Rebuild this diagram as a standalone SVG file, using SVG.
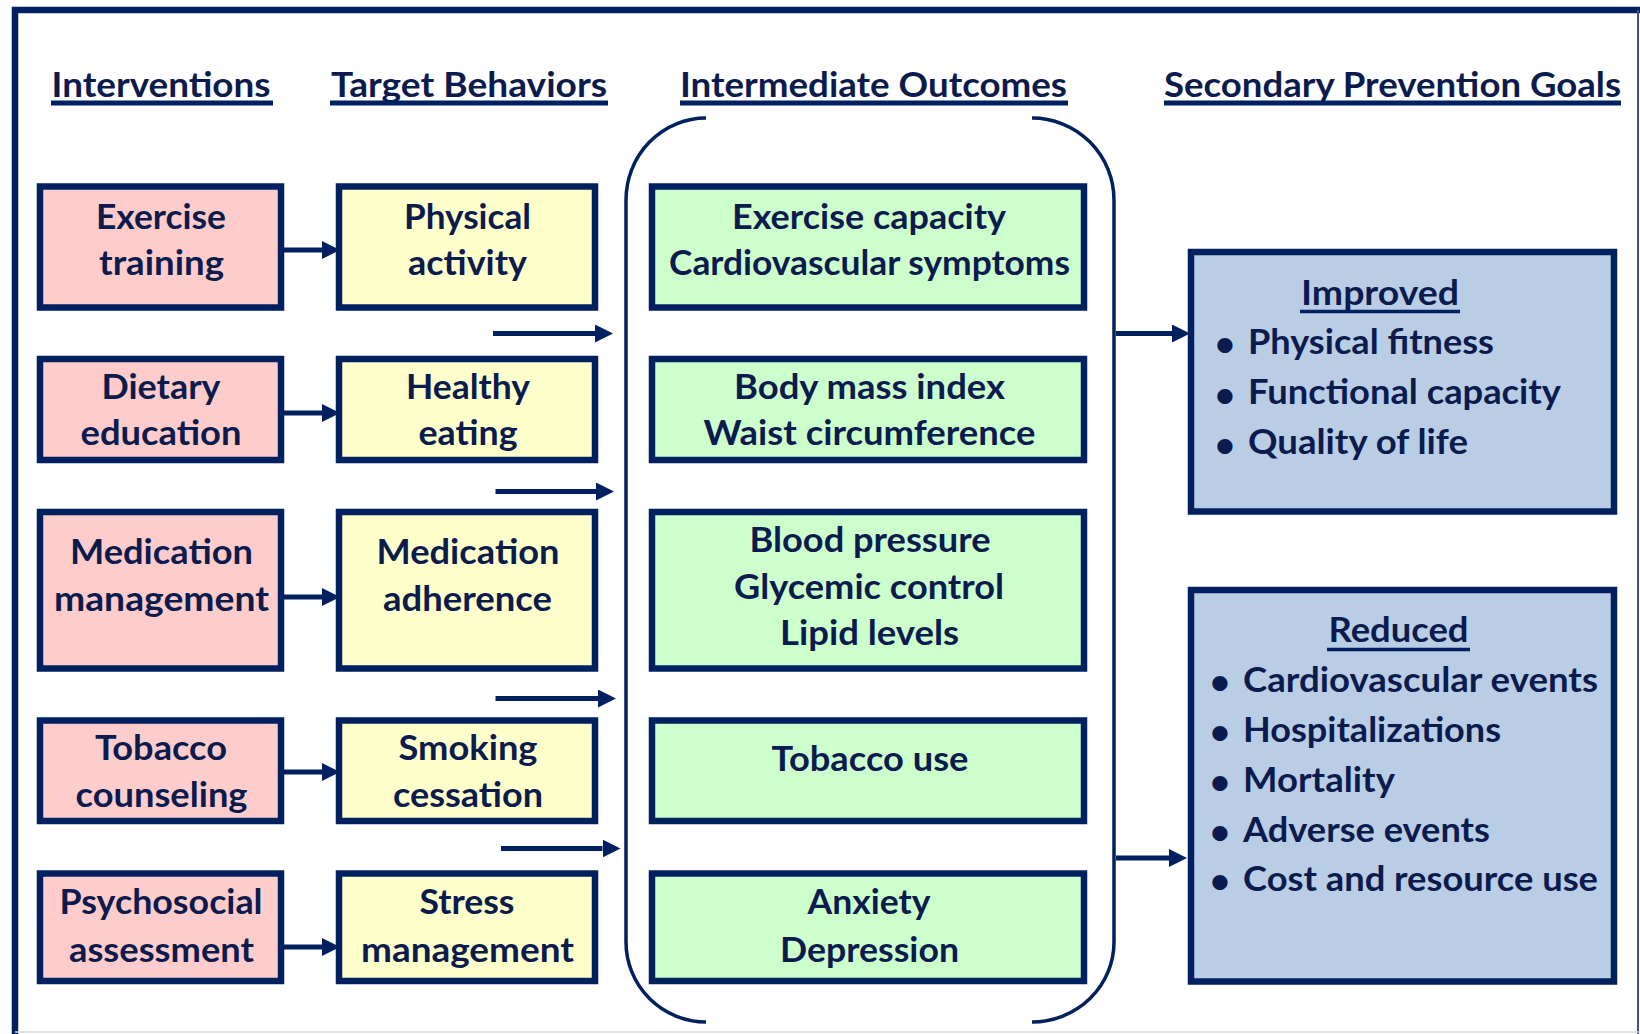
<svg xmlns="http://www.w3.org/2000/svg" width="1640" height="1034" viewBox="0 0 1640 1034">
  <defs>
    <style>
      .frame { fill: none; stroke: #002060; }
      .box { stroke: #002060; stroke-width: 6.5; }
      .pink { fill: #FFCCCC; }
      .yellow { fill: #FFFFCC; }
      .green { fill: #CCFFCC; }
      .blue { fill: #B9CDE5; }
      .t { font-family: Lato, "Liberation Sans", sans-serif; font-weight: 700; font-size: 35px; fill: #0C1B4D; text-anchor: middle; }
      .l { text-anchor: start; }
      .ul { stroke: #002060; stroke-width: 5; }
      .ul2 { stroke: #002060; stroke-width: 3.5; }
      .arrow { stroke: #002060; stroke-width: 5; fill: none; marker-end: url(#head); }
      .bracket { fill: none; stroke: #002060; stroke-width: 3.5; }
    </style>
    <marker id="head" viewBox="0 0 18 18" refX="0" refY="9" markerWidth="18" markerHeight="18" markerUnits="userSpaceOnUse" orient="auto">
      <path d="M0,0 L18,9 L0,18 Z" fill="#002060"/>
    </marker>
  </defs>

  <rect width="1640" height="1034" fill="#FFFFFF"/>

  <!-- outer frame -->
  <path class="frame" d="M15,1034 L15,10 L1640,10" stroke-width="6.5"/>
  <line x1="1638" y1="10" x2="1638" y2="1034" stroke="#3F5289" stroke-width="2"/>
  <line x1="15" y1="1032" x2="1640" y2="1032" stroke="#D6D9E2" stroke-width="1.5"/>

  <!-- column headings -->
  <g id="headings">
    <text class="t" x="161" y="96.5" textLength="219" lengthAdjust="spacingAndGlyphs">Interventions</text>
    <line class="ul" x1="51" y1="103" x2="273" y2="103"/>
    <text class="t" x="469" y="96.5" textLength="276" lengthAdjust="spacingAndGlyphs">Target Behaviors</text>
    <line class="ul" x1="330" y1="103" x2="608" y2="103"/>
    <text class="t" x="873.5" y="96.5" textLength="387" lengthAdjust="spacingAndGlyphs">Intermediate Outcomes</text>
    <line class="ul" x1="680" y1="103" x2="1068" y2="103"/>
    <text class="t" x="1392.5" y="96.5" textLength="457" lengthAdjust="spacingAndGlyphs">Secondary Prevention Goals</text>
    <line class="ul" x1="1164" y1="103" x2="1621" y2="103"/>
  </g>

  <!-- interventions -->
  <g id="exercise-training">
    <rect class="box pink" x="40" y="186.5" width="241" height="121"/>
    <text class="t" x="161" y="228.5" textLength="130" lengthAdjust="spacingAndGlyphs">Exercise</text>
    <text class="t" x="161.5" y="275" textLength="125" lengthAdjust="spacingAndGlyphs">training</text>
  </g>
  <g id="dietary-education">
    <rect class="box pink" x="40" y="359" width="241" height="101"/>
    <text class="t" x="161" y="398.5" textLength="119" lengthAdjust="spacingAndGlyphs">Dietary</text>
    <text class="t" x="161" y="445" textLength="161" lengthAdjust="spacingAndGlyphs">education</text>
  </g>
  <g id="medication-management">
    <rect class="box pink" x="40" y="512" width="241" height="156.5"/>
    <text class="t" x="161.5" y="563.5" textLength="183" lengthAdjust="spacingAndGlyphs">Medication</text>
    <text class="t" x="161.5" y="611" textLength="215" lengthAdjust="spacingAndGlyphs">management</text>
  </g>
  <g id="tobacco-counseling">
    <rect class="box pink" x="40" y="720.5" width="241" height="100.5"/>
    <text class="t" x="161" y="760" textLength="132" lengthAdjust="spacingAndGlyphs">Tobacco</text>
    <text class="t" x="161.5" y="806.5" textLength="172" lengthAdjust="spacingAndGlyphs">counseling</text>
  </g>
  <g id="psychosocial-assessment">
    <rect class="box pink" x="40" y="873.5" width="241" height="107.5"/>
    <text class="t" x="161" y="913.5" textLength="203" lengthAdjust="spacingAndGlyphs">Psychosocial</text>
    <text class="t" x="161.5" y="961.5" textLength="185" lengthAdjust="spacingAndGlyphs">assessment</text>
  </g>

  <!-- target behaviors -->
  <g id="physical-activity">
    <rect class="box yellow" x="339" y="186.5" width="256" height="121"/>
    <text class="t" x="467.5" y="228.5" textLength="127" lengthAdjust="spacingAndGlyphs">Physical</text>
    <text class="t" x="467.5" y="275" textLength="119" lengthAdjust="spacingAndGlyphs">activity</text>
  </g>
  <g id="healthy-eating">
    <rect class="box yellow" x="339" y="359" width="256" height="101"/>
    <text class="t" x="468" y="398.5" textLength="124" lengthAdjust="spacingAndGlyphs">Healthy</text>
    <text class="t" x="468" y="445" textLength="99" lengthAdjust="spacingAndGlyphs">eating</text>
  </g>
  <g id="medication-adherence">
    <rect class="box yellow" x="339" y="512" width="256" height="156.5"/>
    <text class="t" x="468" y="563.5" textLength="183" lengthAdjust="spacingAndGlyphs">Medication</text>
    <text class="t" x="467.5" y="611" textLength="169" lengthAdjust="spacingAndGlyphs">adherence</text>
  </g>
  <g id="smoking-cessation">
    <rect class="box yellow" x="339" y="720.5" width="256" height="100.5"/>
    <text class="t" x="468" y="760" textLength="139" lengthAdjust="spacingAndGlyphs">Smoking</text>
    <text class="t" x="468" y="806.5" textLength="150" lengthAdjust="spacingAndGlyphs">cessation</text>
  </g>
  <g id="stress-management">
    <rect class="box yellow" x="339" y="873.5" width="256" height="107.5"/>
    <text class="t" x="467" y="913.5" textLength="95" lengthAdjust="spacingAndGlyphs">Stress</text>
    <text class="t" x="467.5" y="961.5" textLength="213" lengthAdjust="spacingAndGlyphs">management</text>
  </g>

  <!-- intermediate outcomes -->
  <g id="exercise-capacity">
    <rect class="box green" x="652" y="186.5" width="432" height="121"/>
    <text class="t" x="869" y="228.5" textLength="274" lengthAdjust="spacingAndGlyphs">Exercise capacity</text>
    <text class="t" x="869.5" y="275" textLength="401" lengthAdjust="spacingAndGlyphs">Cardiovascular symptoms</text>
  </g>
  <g id="body-mass">
    <rect class="box green" x="652" y="359" width="432" height="101"/>
    <text class="t" x="869.5" y="398.5" textLength="271" lengthAdjust="spacingAndGlyphs">Body mass index</text>
    <text class="t" x="869.5" y="445" textLength="332" lengthAdjust="spacingAndGlyphs">Waist circumference</text>
  </g>
  <g id="risk-factors">
    <rect class="box green" x="652" y="512" width="432" height="156.5"/>
    <text class="t" x="870" y="551.5" textLength="241" lengthAdjust="spacingAndGlyphs">Blood pressure</text>
    <text class="t" x="869" y="598.5" textLength="270" lengthAdjust="spacingAndGlyphs">Glycemic control</text>
    <text class="t" x="869.5" y="645" textLength="179" lengthAdjust="spacingAndGlyphs">Lipid levels</text>
  </g>
  <g id="tobacco-use">
    <rect class="box green" x="652" y="720.5" width="432" height="100.5"/>
    <text class="t" x="870" y="770.5" textLength="197" lengthAdjust="spacingAndGlyphs">Tobacco use</text>
  </g>
  <g id="anxiety-depression">
    <rect class="box green" x="652" y="873.5" width="432" height="107.5"/>
    <text class="t" x="869" y="913.5" textLength="123" lengthAdjust="spacingAndGlyphs">Anxiety</text>
    <text class="t" x="869.5" y="961.5" textLength="179" lengthAdjust="spacingAndGlyphs">Depression</text>
  </g>

  <!-- bracket grouping the intermediate outcomes -->
  <g id="outcome-bracket">
    <path class="bracket" d="M706,118 A80,82 0 0 0 626,200 L626,942 A80,80 0 0 0 706,1022"/>
    <path class="bracket" d="M1032,118 A82,82 0 0 1 1114,200 L1114,942 A82,80 0 0 1 1032,1022"/>
  </g>

  <!-- secondary prevention goals -->
  <g id="improved">
    <rect class="box blue" x="1191" y="252" width="423" height="259.5"/>
    <text class="t" x="1380" y="305" textLength="158" lengthAdjust="spacingAndGlyphs">Improved</text>
    <line class="ul2" x1="1300" y1="311.5" x2="1460" y2="311.5"/>
    <text class="t" x="1225" y="356">•</text>
    <text class="t l" x="1248" y="353.5" textLength="246" lengthAdjust="spacingAndGlyphs">Physical fitness</text>
    <text class="t" x="1225" y="406.5">•</text>
    <text class="t l" x="1248" y="404" textLength="313" lengthAdjust="spacingAndGlyphs">Functional capacity</text>
    <text class="t" x="1225" y="456.5">•</text>
    <text class="t l" x="1248" y="454" textLength="220" lengthAdjust="spacingAndGlyphs">Quality of life</text>
  </g>
  <g id="reduced">
    <rect class="box blue" x="1191" y="590" width="423" height="391.5"/>
    <text class="t" x="1398.5" y="641.5" textLength="140" lengthAdjust="spacingAndGlyphs">Reduced</text>
    <line class="ul2" x1="1327" y1="649.5" x2="1470" y2="649.5"/>
    <text class="t" x="1220" y="694">•</text>
    <text class="t l" x="1243" y="691.5" textLength="355" lengthAdjust="spacingAndGlyphs">Cardiovascular events</text>
    <text class="t" x="1220" y="744">•</text>
    <text class="t l" x="1243" y="741.5" textLength="258" lengthAdjust="spacingAndGlyphs">Hospitalizations</text>
    <text class="t" x="1220" y="794">•</text>
    <text class="t l" x="1243" y="791.5" textLength="152" lengthAdjust="spacingAndGlyphs">Mortality</text>
    <text class="t" x="1220" y="844">•</text>
    <text class="t l" x="1243" y="841.5" textLength="247" lengthAdjust="spacingAndGlyphs">Adverse events</text>
    <text class="t" x="1220" y="893">•</text>
    <text class="t l" x="1243" y="890.5" textLength="355" lengthAdjust="spacingAndGlyphs">Cost and resource use</text>
  </g>

  <!-- connectors -->
  <g id="connectors">
    <line class="arrow" x1="284" y1="250" x2="322" y2="250"/>
    <line class="arrow" x1="284" y1="413" x2="322" y2="413"/>
    <line class="arrow" x1="280" y1="597" x2="322" y2="597"/>
    <line class="arrow" x1="278" y1="772" x2="322" y2="772"/>
    <line class="arrow" x1="284" y1="947" x2="322" y2="947"/>

    <line class="arrow" x1="493" y1="333.5" x2="595" y2="333.5"/>
    <line class="arrow" x1="495.5" y1="491.5" x2="596" y2="491.5"/>
    <line class="arrow" x1="495.5" y1="698.5" x2="598" y2="698.5"/>
    <line class="arrow" x1="501" y1="848.5" x2="602.5" y2="848.5"/>

    <line class="arrow" x1="1116" y1="333.5" x2="1172" y2="333.5"/>
    <line class="arrow" x1="1116" y1="858" x2="1169" y2="858"/>
  </g>
</svg>
